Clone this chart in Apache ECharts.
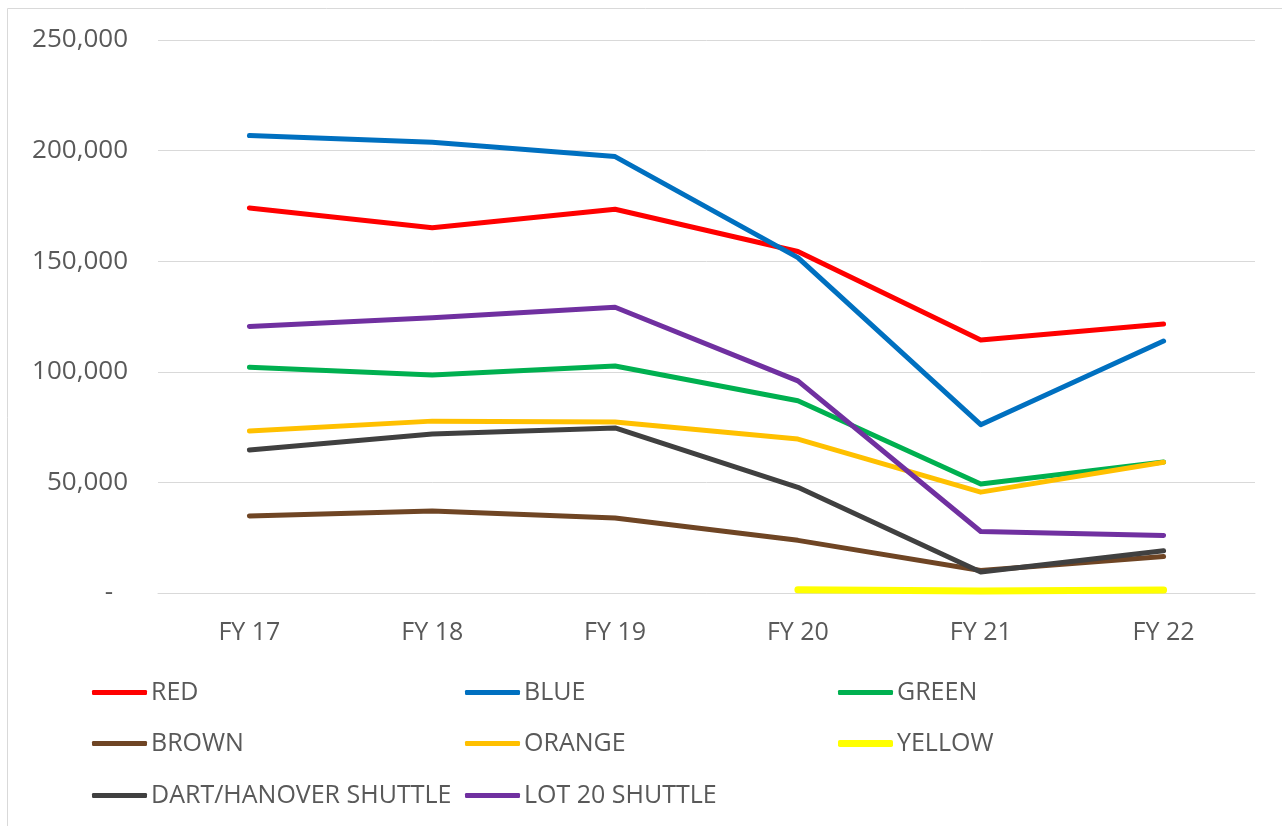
<!DOCTYPE html>
<html>
<head>
<meta charset="utf-8">
<script src="https://cdn.jsdelivr.net/npm/echarts@6/dist/echarts.min.js"></script>
<style>
  html, body { margin: 0; padding: 0; background: #fff; }
  #main { width: 1282px; height: 826px; }
</style>
</head>
<body>
<div id="main"></div>
<script>
// values
var categories = ['FY 17', 'FY 18', 'FY 19', 'FY 20', 'FY 21', 'FY 22'];
var redVals    = [174100, 165100, 173500, 154400, 114400, 121600];
var blueVals   = [206800, 203800, 197300, 151600, 76100, 113900];
var greenVals  = [102100, 98600, 102600, 86900, 49300, 59200];
var brownVals  = [34800, 37100, 33900, 23800, 10200, 16500];
var orangeVals = [73200, 77700, 77300, 69600, 45600, 59100];
var yellowVals = [null, null, null, 1500, 900, 1400];
var dartVals   = [64600, 71900, 74600, 47800, 9500, 19100];
var lotVals    = [120500, 124400, 129200, 95900, 27800, 26000];

var seriesDefs = [
  { name: 'RED', data: redVals, color: '#FF0000' },
  { name: 'BLUE', data: blueVals, color: '#0070C0' },
  { name: 'GREEN', data: greenVals, color: '#00B050' },
  { name: 'BROWN', data: brownVals, color: '#6F4524' },
  { name: 'ORANGE', data: orangeVals, color: '#FFC000' },
  { name: 'YELLOW', data: yellowVals, color: '#FFFF00', width: 7 },
  { name: 'DART/HANOVER SHUTTLE', data: dartVals, color: '#404040' },
  { name: 'LOT 20 SHUTTLE', data: lotVals, color: '#7030A0' }
];

var textColor = '#595959';
var fontFamily = '"Open Sans", sans-serif';

// legend laid out in 3 columns like the original
var colX = [92, 465, 838];
var rowY = [690, 741, 793];
var legends = seriesDefs.map(function (s, i) {
  return {
    data: [s.name],
    left: colX[i % 3],
    top: rowY[Math.floor(i / 3)] - 10,
    padding: 0,
    icon: 'roundRect',
    itemWidth: 55,
    itemHeight: s.width ? 7 : 5,
    selectedMode: false,
    textStyle: { color: textColor, fontSize: 25, fontFamily: fontFamily, padding: [0, 0, 0, -1] }
  };
});

var chart = echarts.init(document.getElementById('main'));
chart.setOption({
  animation: false,
  color: seriesDefs.map(function (s) { return s.color; }),
  graphic: [{
    type: 'rect',
    shape: { x: 7.5, y: 8.5, width: 1400, height: 900 },
    style: { fill: 'none', stroke: '#D9D9D9', lineWidth: 1 },
    silent: true
  }],
  grid: { left: 158, right: 27, top: 40, bottom: 233 },
  legend: legends,
  xAxis: {
    type: 'category',
    data: categories,
    boundaryGap: true,
    axisLine: { lineStyle: { color: '#D9D9D9', width: 1 } },
    axisTick: { show: false },
    axisLabel: { color: textColor, fontSize: 25, fontFamily: fontFamily, margin: 27 }
  },
  yAxis: {
    type: 'value',
    min: 0,
    max: 250000,
    interval: 50000,
    axisLine: { show: false },
    axisTick: { show: false },
    splitLine: { lineStyle: { color: '#D9D9D9', width: 1 } },
    axisLabel: {
      color: textColor, fontSize: 26, fontFamily: fontFamily, margin: 30,
      formatter: function (v) {
        return v === 0 ? '-\u2007' : v.toLocaleString('en-US');
      }
    }
  },
  series: seriesDefs.map(function (s) {
    return {
      name: s.name,
      type: 'line',
      data: s.data,
      symbol: 'none',
      lineStyle: { width: s.width || 5, color: s.color, cap: 'round', join: 'round' },
      itemStyle: { color: s.color }
    };
  })
});
</script>
</body>
</html>
